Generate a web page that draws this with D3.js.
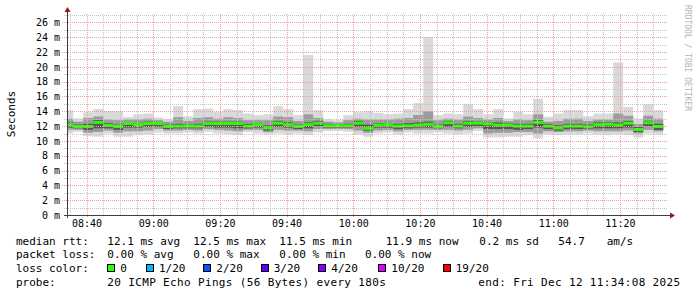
<!DOCTYPE html>
<html>
<head>
<meta charset="utf-8">
<script src="https://cdn.jsdelivr.net/npm/d3@7"></script>
<style>
  body { margin: 0; background: #fff; }
  svg { display: block; }
  text { font-family: "DejaVu Sans Mono", monospace; }
</style>
</head>
<body>
<svg id="chart" width="697" height="297"></svg>
<script>
// graph window and rrd step (3 min buckets, first bucket starts 08:33)
const graphStart = new Date(2025, 11, 12, 8, 34, 8);
const graphEnd = new Date(2025, 11, 12, 11, 34, 8);
const firstBucket = new Date(2025, 11, 12, 8, 33, 0);
const stepMinutes = 3;

// median rtt per bucket (ms)
const median = [12.2, 11.95, 11.95, 12.5, 12.1, 11.95, 12.35, 12.2, 12.35, 12.35,
  11.95, 12.0, 12.0, 12.0, 12.35, 12.35, 12.35, 12.35, 12.0, 12.2,
  11.75, 12.4, 12.2, 11.95, 12.2, 12.4, 12.05, 12.05, 12.05, 12.4,
  11.7, 12.15, 12.2, 12.0, 12.05, 12.15, 12.25, 11.95, 12.45, 12.0,
  12.4, 12.4, 12.3, 12.15, 12.15, 12.0, 12.0, 12.5, 12.0, 11.75,
  12.0, 12.0, 11.9, 12.2, 12.25, 12.15, 12.4, 11.55, 12.45, 11.95];

// smoke: outer band (slowest / fastest ping)
const outerHi = [14.15, 13.03, 13.88, 14.3, 14.01, 14.01, 13.25, 13.61, 13.7, 13.16,
  12.94, 14.69, 13.34, 14.28, 14.37, 13.92, 14.28, 14.15, 13.7, 13.48,
  13.61, 14.69, 14.28, 13.48, 21.6, 14.15, 12.94, 12.8, 13.48, 13.88,
  14.01, 13.79, 13.61, 13.7, 14.28, 15.1, 24.0, 13.48, 13.7, 13.61,
  15.0, 14.28, 13.61, 14.28, 13.03, 13.92, 13.61, 15.7, 13.25, 13.7,
  14.15, 14.15, 13.34, 13.7, 13.7, 20.6, 14.6, 13.03, 14.96, 14.15];
const outerLo = [11.0, 11.2, 10.65, 10.56, 11.0, 10.56, 10.56, 10.78, 10.87, 11.14,
  11.0, 11.0, 11.14, 11.0, 11.23, 11.0, 10.92, 10.78, 11.19, 11.0,
  10.87, 11.0, 10.87, 11.0, 10.78, 11.14, 11.32, 11.36, 11.23, 10.87,
  10.56, 11.0, 11.14, 10.87, 11.14, 11.0, 11.0, 11.14, 11.0, 10.87,
  11.0, 11.36, 10.47, 10.47, 10.56, 10.56, 10.78, 10.33, 10.87, 10.78,
  10.87, 10.87, 11.0, 10.87, 10.78, 10.9, 10.78, 10.47, 11.0, 10.87];

// smoke: middle band
const midHi = [13.0, 12.6, 13.1, 13.3, 12.9, 12.8, 12.9, 12.9, 13.0, 12.8,
  12.6, 13.2, 12.7, 13.1, 13.2, 13.0, 13.2, 13.1, 12.8, 12.8,
  12.8, 13.3, 13.2, 12.7, 13.6, 13.1, 12.6, 12.5, 12.8, 13.0,
  12.9, 12.9, 12.9, 13.0, 13.1, 13.5, 14.0, 12.8, 13.0, 12.9,
  13.3, 13.1, 12.9, 13.1, 12.7, 12.9, 12.8, 13.6, 12.6, 12.7,
  13.0, 13.0, 12.7, 12.9, 12.9, 13.7, 13.4, 12.3, 13.4, 13.0];
const midLo = [11.5, 11.5, 11.1, 11.2, 11.4, 11.1, 11.3, 11.3, 11.4, 11.6,
  11.4, 11.4, 11.5, 11.4, 11.6, 11.5, 11.4, 11.3, 11.5, 11.5,
  11.2, 11.5, 11.4, 11.4, 11.3, 11.6, 11.6, 11.6, 11.6, 11.4,
  11.1, 11.4, 11.5, 11.3, 11.5, 11.5, 11.5, 11.5, 11.5, 11.4,
  11.5, 11.7, 11.0, 11.1, 11.1, 11.2, 11.2, 11.0, 11.3, 11.2,
  11.3, 11.3, 11.4, 11.3, 11.3, 11.3, 11.4, 11.0, 11.5, 11.3];

// smoke: inner band
const innerHi = [12.5, 12.2, 12.3, 12.8, 12.4, 12.2, 12.5, 12.4, 12.6, 12.5,
  12.2, 12.3, 12.2, 12.3, 12.6, 12.6, 12.6, 12.6, 12.3, 12.4,
  12.1, 12.7, 12.5, 12.2, 12.5, 12.7, 12.3, 12.2, 12.3, 12.7,
  12.2, 12.4, 12.4, 12.3, 12.4, 12.5, 12.6, 12.2, 12.7, 12.3,
  12.7, 12.6, 12.5, 12.5, 12.4, 12.3, 12.3, 12.8, 12.3, 12.1,
  12.3, 12.3, 12.2, 12.5, 12.5, 12.5, 12.7, 11.9, 12.7, 12.3];
const innerLo = [11.8, 11.7, 11.5, 11.7, 11.7, 11.5, 11.8, 11.8, 11.9, 11.9,
  11.6, 11.7, 11.7, 11.7, 11.9, 11.8, 11.8, 11.7, 11.7, 11.8,
  11.4, 11.9, 11.8, 11.6, 11.7, 12.0, 11.8, 11.8, 11.8, 11.9,
  11.4, 11.8, 11.8, 11.6, 11.7, 11.8, 11.8, 11.7, 11.9, 11.7,
  11.9, 12.0, 11.6, 11.6, 11.6, 11.5, 11.6, 11.8, 11.6, 11.4,
  11.6, 11.6, 11.6, 11.7, 11.7, 11.7, 11.8, 11.2, 12.0, 11.5];

// axis ticks
const yTicks = [0, 2, 4, 6, 8, 10, 12, 14, 16, 18, 20, 22, 24, 26];

// legend
const lossLabels = ["0", "1/20", "2/20", "3/20", "4/20", "10/20", "19/20"];
const lossColors = ["#26ff00", "#00b8ff", "#0059ff", "#5e00ff", "#7e00ff", "#dd00ff", "#ff0000"];
const rttLegend = ["12.1 ms avg", "12.5 ms max", "11.5 ms min", "11.9 ms now", "0.2 ms sd", "54.7", "am/s"];
const lossLegend = ["0.00 % avg", "0.00 % max", "0.00 % min", "0.00 % now"];
const probeText = "20 ICMP Echo Pings (56 Bytes) every 180s";
const endText = "end: Fri Dec 12 11:34:08 2025";

const svg = d3.select("#chart");

const x = d3.scaleTime().domain([graphStart, graphEnd]).range([67, 667]);
const y = d3.scaleLinear().domain([0, 27]).range([215, 15]);

const buckets = median.map((m, i) => {
  const t0 = d3.timeMinute.offset(firstBucket, i * stepMinutes);
  return {
    t0, t1: d3.timeMinute.offset(t0, stepMinutes), med: m,
    oh: outerHi[i], ol: outerLo[i], mh: midHi[i], ml: midLo[i], ih: innerHi[i], il: innerLo[i]
  };
});

svg.append("defs").append("clipPath").attr("id", "plot")
  .append("rect").attr("x", 67).attr("y", 15).attr("width", 600).attr("height", 200);

const plot = svg.append("g").attr("clip-path", "url(#plot)");

// smoke layers, lightest first
const layers = [["oh", "ol", "#d9d9d9"], ["mh", "ml", "#9c9c9c"], ["ih", "il", "#555555"]];
layers.forEach(([hi, lo, col]) => {
  plot.append("g").selectAll("rect").data(buckets).enter().append("rect")
    .attr("x", d => x(d.t0))
    .attr("width", d => x(d.t1) - x(d.t0))
    .attr("y", d => y(d[hi]))
    .attr("height", d => y(d[lo]) - y(d[hi]))
    .attr("fill", col);
});

// median line
plot.append("g").selectAll("rect").data(buckets).enter().append("rect")
  .attr("x", d => x(d.t0))
  .attr("width", d => x(d.t1) - x(d.t0))
  .attr("y", d => y(d.med) - 1.5)
  .attr("height", 3)
  .attr("fill", lossColors[0]);

// grid
const grid = svg.append("g").attr("shape-rendering", "crispEdges");
const minorY = d3.range(1, 28).filter(v => v % 2 === 1);
grid.selectAll(".hmin").data(minorY).enter().append("line")
  .attr("x1", 64).attr("x2", 667)
  .attr("y1", d => Math.round(y(d)) + 0.5).attr("y2", d => Math.round(y(d)) + 0.5)
  .attr("stroke", "#c4c4c4").attr("stroke-dasharray", "1,1");
grid.selectAll(".hmaj").data(yTicks.slice(1)).enter().append("line")
  .attr("x1", 62).attr("x2", 667)
  .attr("y1", d => Math.round(y(d)) + 0.5).attr("y2", d => Math.round(y(d)) + 0.5)
  .attr("stroke", "#f29c9c").attr("stroke-dasharray", "1,1");

const minorX = d3.timeMinute.every(5).range(graphStart, graphEnd).filter(d => d.getMinutes() % 20 !== 0);
const majorX = d3.timeMinute.every(20).range(graphStart, graphEnd);
grid.selectAll(".vmin").data(minorX).enter().append("line")
  .attr("x1", d => Math.round(x(d)) + 0.5).attr("x2", d => Math.round(x(d)) + 0.5)
  .attr("y1", 14).attr("y2", 215)
  .attr("stroke", "#c4c4c4").attr("stroke-dasharray", "1,1");
grid.selectAll(".vmaj").data(majorX).enter().append("line")
  .attr("x1", d => Math.round(x(d)) + 0.5).attr("x2", d => Math.round(x(d)) + 0.5)
  .attr("y1", 14).attr("y2", 218)
  .attr("stroke", "#f29c9c").attr("stroke-dasharray", "1,1");

// axes
const yAxis = svg.append("g").attr("transform", "translate(67,0)")
  .call(d3.axisLeft(y).tickValues(yTicks).tickFormat(d => d + " m").tickSize(0).tickPadding(7));
yAxis.select(".domain").remove();
yAxis.selectAll("text").attr("font-size", 10).attr("font-family", "DejaVu Sans Mono").attr("fill", "#000");

const xAxis = svg.append("g").attr("transform", "translate(0,215)")
  .call(d3.axisBottom(x).ticks(d3.timeMinute.every(20)).tickFormat(d3.timeFormat("%H:%M")).tickSize(0).tickPadding(5));
xAxis.select(".domain").remove();
xAxis.selectAll("text").attr("font-size", 10).attr("font-family", "DejaVu Sans Mono").attr("fill", "#000");

// axis lines and arrows
svg.append("line").attr("x1", 64).attr("x2", 670).attr("y1", 215.5).attr("y2", 215.5)
  .attr("stroke", "#404040").attr("stroke-width", 1);
svg.append("line").attr("x1", 67.5).attr("x2", 67.5).attr("y1", 218).attr("y2", 11)
  .attr("stroke", "#404040").attr("stroke-width", 1);
svg.append("path").attr("d", "M670,212.5 L675,215.5 L670,218.5 Z").attr("fill", "#8b1a1a");
svg.append("path").attr("d", "M64.5,12 L67.5,7 L70.5,12 Z").attr("fill", "#8b1a1a");

// titles
svg.append("text").attr("transform", "translate(15,114) rotate(-90)")
  .attr("text-anchor", "middle").attr("font-size", 11).text("Seconds");
svg.append("text").attr("transform", "translate(685,5) rotate(90)")
  .attr("font-size", 8).attr("fill", "#b4b4b4").text("RRDTOOL / TOBI OETIKER");

// legend
const legend = svg.append("g").attr("font-size", 11).attr("fill", "#000");
const rttX = [107.3, 193.3, 279.3, 385.7, 479.3, 558.3, 606.7];
legend.append("text").attr("x", 16).attr("y", 244.5).text("median rtt:");
legend.selectAll(".rtt").data(rttLegend).enter().append("text")
  .attr("x", (d, i) => rttX[i]).attr("y", 244.5).text(d => d);

const lossX = [107.3, 193.3, 279.3, 365];
legend.append("text").attr("x", 16).attr("y", 258).text("packet loss:");
legend.selectAll(".pl").data(lossLegend).enter().append("text")
  .attr("x", (d, i) => lossX[i]).attr("y", 258).text(d => d);

const boxX = [107.3, 146, 203.3, 260.7, 318.3, 378.3, 442.7];
legend.append("text").attr("x", 16).attr("y", 272).text("loss color:");
legend.selectAll(".box").data(lossColors).enter().append("rect")
  .attr("x", (d, i) => Math.round(boxX[i]) + 0.5).attr("y", 264.5)
  .attr("width", 7).attr("height", 7)
  .attr("fill", d => d).attr("stroke", "#000").attr("stroke-width", 1);
legend.selectAll(".ll").data(lossLabels).enter().append("text")
  .attr("x", (d, i) => boxX[i] + 13).attr("y", 272).text(d => d);

legend.append("text").attr("x", 16).attr("y", 286).text("probe:");
legend.append("text").attr("x", 107.3).attr("y", 286).attr("letter-spacing", 0.35).text(probeText);
legend.append("text").attr("x", 478.3).attr("y", 286).attr("letter-spacing", 0.35).text(endText);
</script>
</body>
</html>
